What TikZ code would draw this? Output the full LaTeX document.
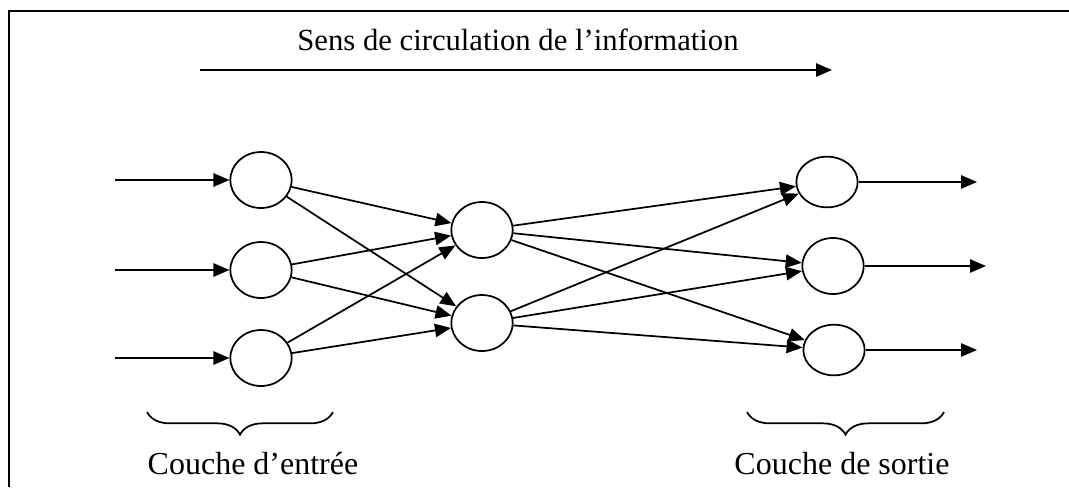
\documentclass[tikz,border=0pt]{standalone}
\usepackage{fontspec}
\setmainfont{Liberation Serif}
\usetikzlibrary{shapes.geometric,arrows.meta,decorations.pathreplacing}

\begin{document}
\begin{tikzpicture}[
  x=0.75pt, y=-0.75pt,
  neuron/.style={draw, ellipse, line width=1.3pt, minimum width=46pt, minimum height=42pt, inner sep=0pt},
  lbl/.style={font=\fontsize{24}{28}\selectfont, anchor=base, inner sep=0pt},
  arr/.style={-{Triangle[length=12pt, width=10pt]}, line width=1.3pt},
  brc/.style={decorate, decoration={brace, mirror, amplitude=17pt}, line width=1.3pt}
]
\useasboundingbox (0,0) rectangle (1069,487);
\draw[line width=1.8pt] (9,487) -- (9,11) -- (1069,11);

\node[lbl, font=\fontsize{23}{27}\selectfont] (title) at (518,50) {Sens de circulation de l’information};
\coordinate (f0) at (200,70);
\coordinate (f1) at (832,70);
\draw[arr] (f0) -- (f1);

\node[neuron] (in1) at (261,180) {};
\node[neuron] (in2) at (261,270) {};
\node[neuron] (in3) at (261,358) {};
\node[neuron] (hid1) at (482,230) {};
\node[neuron] (hid2) at (482,323) {};
\node[neuron, minimum height=38pt] (out1) at (827,182) {};
\node[neuron] (out2) at (833,266) {};
\node[neuron, minimum height=38pt] (out3) at (834,350) {};

\coordinate (x1) at (115,180);
\coordinate (x2) at (115,270);
\coordinate (x3) at (115,358);
\draw[arr] (x1) -- (in1); \draw[arr] (x2) -- (in2); \draw[arr] (x3) -- (in3);

\draw[arr] (in1) -- (hid1); \draw[arr] (in1) -- (hid2);
\draw[arr] (in2) -- (hid1); \draw[arr] (in2) -- (hid2);
\draw[arr] (in3) -- (hid1); \draw[arr] (in3) -- (hid2);

\draw[arr] (hid1) -- (out1); \draw[arr] (hid1) -- (out2); \draw[arr] (hid1) -- (out3);
\draw[arr] (hid2) -- (out1); \draw[arr] (hid2) -- (out2); \draw[arr] (hid2) -- (out3);

\coordinate (y1) at (977,182);
\coordinate (y2) at (986,266);
\coordinate (y3) at (977,350);
\draw[arr] (out1) -- (y1); \draw[arr] (out2) -- (y2); \draw[arr] (out3) -- (y3);

\coordinate (b1) at (147,412);
\coordinate (b2) at (333,412);
\coordinate (b3) at (747,412);
\coordinate (b4) at (944,412);
\draw[brc] (b1) -- (b2);
\draw[brc] (b3) -- (b4);
\node[lbl] (inlab) at (253,474) {Couche d’entrée};
\node[lbl] (outlab) at (842,474) {Couche de sortie};
\end{tikzpicture}
\end{document}
